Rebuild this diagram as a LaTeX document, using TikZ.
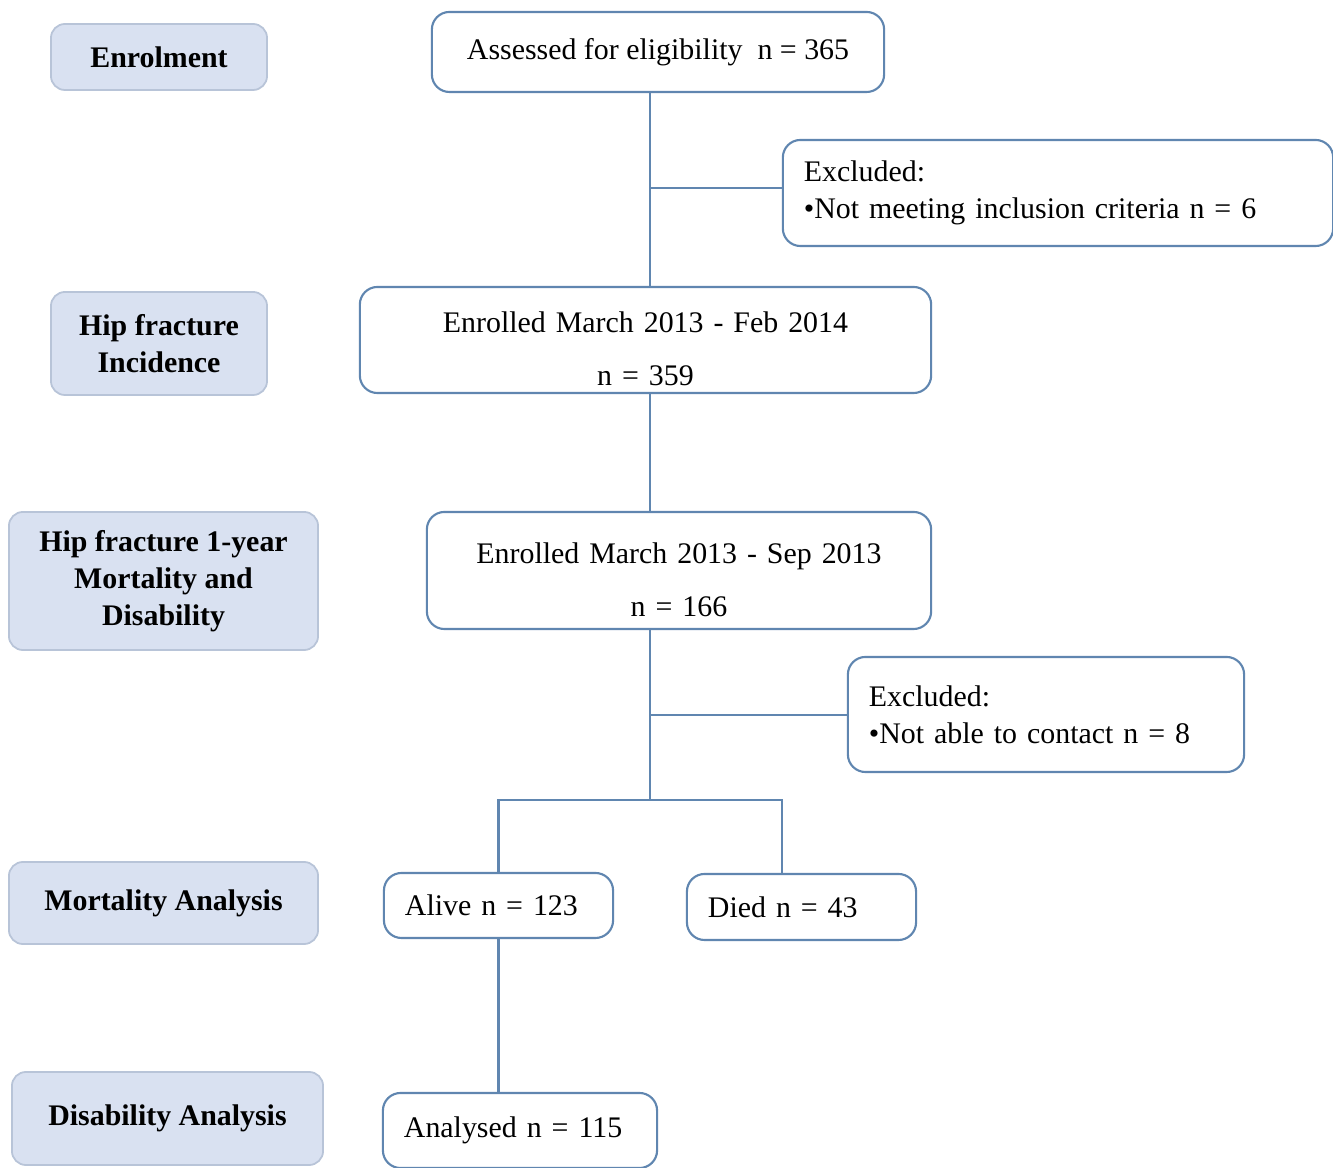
\documentclass[tikz,border=0pt]{standalone}
\usepackage{fontspec}
\setmainfont{Liberation Serif}
\definecolor{edgeblue}{RGB}{96,134,176}
\definecolor{labfill}{RGB}{217,225,241}
\definecolor{labedge}{RGB}{184,196,216}
\begin{document}
\begin{tikzpicture}[x=0.01cm, y=-0.01cm,
    every node/.style={font=\fontsize{8.5}{10.5}\selectfont},
    lab/.style={draw=labedge, fill=labfill, rounded corners=4pt, line width=0.5pt, align=center, font=\fontsize{8.5}{10.5}\selectfont\bfseries},
    box/.style={draw=edgeblue, fill=white, rounded corners=5pt, line width=0.6pt, inner xsep=0.21cm},
    link/.style={draw=edgeblue, line width=0.6pt}]
	\useasboundingbox[fill=white] (0,0) rectangle (1333,1168);
	\node[lab, minimum width=2.16cm, minimum height=0.66cm] (enrollab) at (159,57) {Enrolment};
	\node[lab, minimum width=2.16cm, minimum height=1.03cm] (inclab) at (159,343.5) {Hip fracture\\Incidence};
	\node[lab, minimum width=3.09cm, minimum height=1.38cm] (yearlab) at (163.5,581) {Hip fracture 1-year\\Mortality and\\Disability};
	\node[lab, minimum width=3.09cm, minimum height=0.82cm] (mortlab) at (163.5,903) {Mortality Analysis};
	\node[lab, minimum width=3.11cm, minimum height=0.93cm] (disablab) at (167.5,1118.5) {Disability Analysis};
	\node[box, minimum width=4.52cm, minimum height=0.80cm, align=center] (assess) at (658,52) {Assessed for eligibility \ n = 365};
	\node[box, text width=5.08cm, minimum height=1.06cm, align=left] (excl1) at (1058,193) {Excluded:\\\textbullet Not meeting inclusion criteria n = 6};
	\node[box, inner ysep=0pt, text width=5.29cm, minimum height=1.06cm, align=center] (inc) at (645.5,340) {\rule{0pt}{11pt}Enrolled March 2013 - Feb 2014\\[4.5pt]n = 359};
	\node[box, inner ysep=0pt, text width=4.62cm, minimum height=1.17cm, align=center] (mort) at (679,570.5) {\rule{0pt}{11pt}Enrolled March 2013 - Sep 2013\\[4.5pt]n = 166};
	\node[box, text width=3.54cm, minimum height=1.15cm, align=left] (excl2) at (1046,714.5) {Excluded:\\\textbullet Not able to contact n = 8};
	\node[box, text width=1.87cm, minimum height=0.65cm, align=left] (alive) at (498.5,905.5) {Alive n = 123};
	\node[box, text width=1.87cm, minimum height=0.66cm, align=left] (died) at (801.5,907) {Died n = 43};
	\node[box, text width=2.32cm, minimum height=0.75cm, align=left] (analysed) at (520,1130.5) {Analysed n = 115};
	\coordinate (ja) at (650,188);
	\coordinate (jb) at (650,715);
	\coordinate (jc) at (650,800);
	\coordinate (jd) at (782,800);
	\draw[link] (ja |- assess.south) -- (ja |- inc.north);
	\draw[link] (ja) -- (ja -| excl1.west);
	\draw[link] (ja |- inc.south) -- (ja |- mort.north);
	\draw[link] (ja |- mort.south) -- (jc);
	\draw[link] (jb) -- (jb -| excl2.west);
	\draw[link] (alive.north) -- (alive.north |- jc) -- (jd) -- (jd |- died.north);
	\draw[link] (alive.south) -- (alive.south |- analysed.north);
\end{tikzpicture}
\end{document}
